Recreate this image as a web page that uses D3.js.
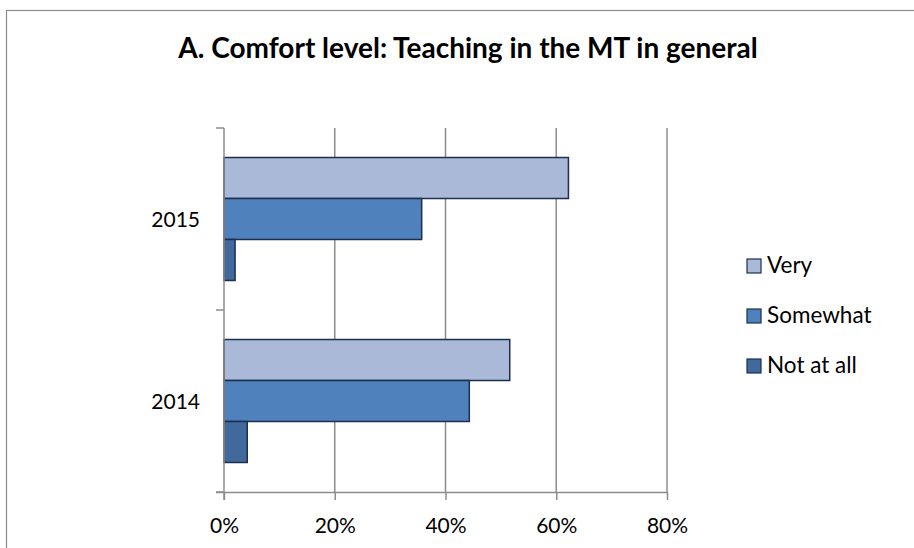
<!DOCTYPE html>
<html>
<head>
<meta charset="utf-8">
<script src="https://cdn.jsdelivr.net/npm/d3@7"></script>
<style>
  html, body { margin: 0; padding: 0; background: #fff; }
  svg { display: block; font-family: Lato, "Open Sans", sans-serif; }
</style>
</head>
<body>
<svg id="chart" width="914" height="548"></svg>
<script>
// Survey results: comfort level teaching in the MT, by year
const years = ["2015", "2014"];
const seriesNames = ["Very", "Somewhat", "Not at all"];
const veryValues = [62.2, 51.6];
const somewhatValues = [35.7, 44.3];
const notAtAllValues = [2.0, 4.2];
const xTicks = [0, 20, 40, 60, 80];
const seriesColors = ["#AAB9D7", "#4F81BD", "#41699B"];

const seriesValues = [veryValues, somewhatValues, notAtAllValues];

const svg = d3.select("#chart");

// outer chart frame
svg.append("rect")
  .attr("x", 6.5).attr("y", 10.5)
  .attr("width", 920).attr("height", 560)
  .attr("fill", "#fff").attr("stroke", "#8c8c8c").attr("stroke-width", 1.2);

svg.append("text")
  .attr("x", 468).attr("y", 58)
  .attr("text-anchor", "middle")
  .attr("font-weight", "bold")
  .attr("font-size", 28)
  .attr("fill", "#000")
  .text("A. Comfort level: Teaching in the MT in general");

const plot = { left: 224, right: 667, top: 128, bottom: 492 };

const x = d3.scaleLinear().domain([0, 80]).range([plot.left, plot.right]);
const y0 = d3.scaleBand().domain(years).range([plot.top, plot.bottom]).paddingInner(0).paddingOuter(0);
const y1 = d3.scaleBand().domain(seriesNames).range([0, y0.bandwidth()]).paddingInner(0).paddingOuter(0.72);

// vertical gridlines
svg.append("g")
  .selectAll("line")
  .data(xTicks.filter(t => t > 0))
  .join("line")
  .attr("x1", d => x(d)).attr("x2", d => x(d))
  .attr("y1", plot.top).attr("y2", plot.bottom)
  .attr("stroke", "#8c8c8c").attr("stroke-width", 1.5);

// bars
const groups = svg.append("g")
  .selectAll("g")
  .data(years)
  .join("g")
  .attr("transform", d => `translate(0,${y0(d)})`);

groups.selectAll("rect")
  .data((yr, i) => seriesNames.map((s, j) => ({ s, v: seriesValues[j][i], j })))
  .join("rect")
  .attr("x", x(0))
  .attr("y", d => y1(d.s))
  .attr("width", d => x(d.v) - x(0))
  .attr("height", y1.bandwidth())
  .attr("fill", d => seriesColors[d.j])
  .attr("stroke", "#1c2f4f")
  .attr("stroke-width", 1.5);

// x axis
const xAxis = svg.append("g")
  .attr("transform", `translate(0,${plot.bottom})`)
  .call(d3.axisBottom(x).tickValues(xTicks).tickFormat(d => d + "%").tickSize(8).tickSizeOuter(0));
xAxis.select(".domain").attr("stroke", "#8c8c8c").attr("stroke-width", 1.5)
  .attr("d", `M${plot.left - 8},0.5H${plot.right}`);
xAxis.selectAll(".tick line").attr("stroke", "#8c8c8c").attr("stroke-width", 1.5);
xAxis.selectAll(".tick text")
  .attr("font-size", 21).attr("fill", "#000")
  .attr("font-family", "Lato, sans-serif")
  .attr("y", 41).attr("dy", null);

// y axis
const yTickPos = [plot.top, (plot.top + plot.bottom) / 2, plot.bottom];
svg.append("line")
  .attr("x1", plot.left).attr("x2", plot.left)
  .attr("y1", plot.top).attr("y2", plot.bottom + 8)
  .attr("stroke", "#8c8c8c").attr("stroke-width", 1.5);
svg.append("g").selectAll("line")
  .data(yTickPos)
  .join("line")
  .attr("x1", plot.left - 8).attr("x2", plot.left)
  .attr("y1", d => d).attr("y2", d => d)
  .attr("stroke", "#8c8c8c").attr("stroke-width", 1.5);

svg.append("g").selectAll("text")
  .data(years)
  .join("text")
  .attr("x", 200)
  .attr("y", d => y0(d) + y0.bandwidth() / 2 + 8)
  .attr("text-anchor", "end")
  .attr("font-size", 21)
  .attr("fill", "#000")
  .text(d => d);

// legend
const legend = svg.append("g").selectAll("g")
  .data(seriesNames)
  .join("g")
  .attr("transform", (d, i) => `translate(747,${259 + i * 50})`);
legend.append("rect")
  .attr("width", 14).attr("height", 14)
  .attr("fill", (d, i) => seriesColors[i])
  .attr("stroke", "#1c2f4f").attr("stroke-width", 1.2);
legend.append("text")
  .attr("x", 20).attr("y", 14)
  .attr("font-size", 22.5)
  .attr("fill", "#000")
  .text(d => d);
</script>
</body>
</html>
